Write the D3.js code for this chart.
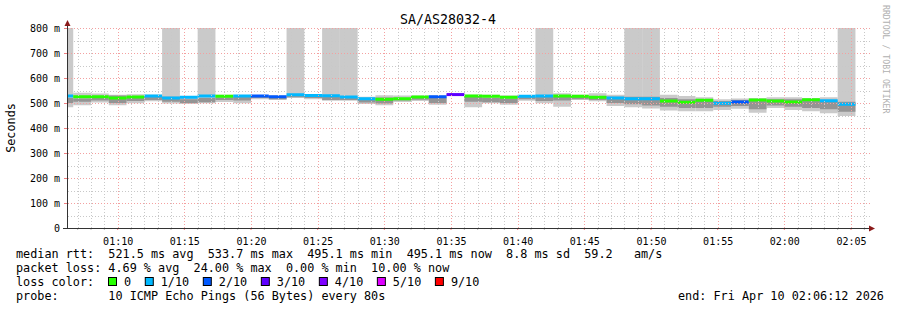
<!DOCTYPE html>
<html><head><meta charset="utf-8">
<script src="https://cdn.jsdelivr.net/npm/d3@7"></script>
<style>
body{margin:0;background:#fff}
text{font-family:"DejaVu Sans Mono",monospace;white-space:pre}
</style></head><body>
<div id="chart"></div>
<script>
var title = "SA/AS28032-4";
var startTime = "2026-04-10T01:06:12Z", endTime = "2026-04-10T02:06:12Z";
var firstStep = "2026-04-10T01:05:20Z", stepSec = 80;

// per 80s step: median rtt (ms), lost pings, outer smoke and core smoke
var median = [528,525,525,520,524,528,520,523,528,527,528,528,525,533,530,529,524,517,515,517,524,525,533.7,
              528,527,523,527,528,528,527,523,520,517,517,508,503,511,499,504,512,508,504,513,509,495.1];
var loss   = [1,0,0,0,0,1,1,1,1,0,1,2,2,1,1,1,1,1,0,0,0,2,3,
              0,0,0,1,1,0,0,0,1,1,1,0,0,0,1,2,0,0,0,0,1,1];
var smokeLo = [483,491,502,491,499,507,498,496,499,504,499,515,512,520,515,509,509,496,491,504,508,493,528,
               483,499,493,509,499,485,512,507,488,483,478,470,467,467,472,477,461,480,472,467,459,448];
var smokeHi = [900,541,538,533,535,533,900,528,900,533,531,531,530,900,535,900,900,525,531,530,530,530,535,
               533,533,530,532,900,539,533,539,533,900,900,533,528,523,515,518,520,523,523,520,523,900];
var coreLo = [500,505,510,500,508,512,505,500,503,512,510,520,515,523,520,512,512,502,498,510,513,500,530,
              505,503,500,515,508,510,515,512,500,495,490,485,480,480,485,488,475,490,485,480,475,465];
var coreHi = [520,518,520,530,520,525,525,515,520,522,525,528,522,531,528,525,521,515,522,520,520,522,534,
              525,520,518,525,524,525,524,528,525,525,525,520,515,515,508,512,510,515,515,515,510,505];

var lossCounts = [0,1,2,3,4,5,9];
var lossLabels = ["0","1/10","2/10","3/10","4/10","5/10","9/10"];
var lossColors = ["#26ff00","#00b8ff","#0059ff","#5e00ff","#7e00ff","#dd00ff","#ff0000"];
var yTicks = [0,100,200,300,400,500,600,700,800];

var legendLines = [
  "median rtt:  521.5 ms avg  533.7 ms max  495.1 ms min  495.1 ms now  8.8 ms sd  59.2   am/s",
  "packet loss: 4.69 % avg  24.00 % max  0.00 % min  10.00 % now",
  "loss color:",
  "probe:       10 ICMP Echo Pings (56 Bytes) every 80s"
];
var endLabel = "end: Fri Apr 10 02:06:12 2026";

var W = 897, H = 310;
var pLeft = 67, pRight = 867, pTop = 28, pBottom = 228;
var charW = 7.08;

var svg = d3.select("#chart").append("svg").attr("width", W).attr("height", H);
svg.append("rect").attr("width", W).attr("height", H).attr("fill", "#fff");

var x = d3.scaleUtc().domain([new Date(startTime), new Date(endTime)]).range([pLeft, pRight]);
var y = d3.scaleLinear().domain([0, 800]).range([pBottom, pTop]);

svg.append("clipPath").attr("id", "plot")
  .append("rect").attr("x", pLeft).attr("y", pTop).attr("width", pRight - pLeft).attr("height", pBottom - pTop);

var t0 = new Date(firstStep);
var steps = median.map(function(m, i){
  var s = d3.utcSecond.offset(t0, i * stepSec);
  return {t: s, t1: d3.utcSecond.offset(s, stepSec), med: m, loss: loss[i],
          lo: smokeLo[i], hi: smokeHi[i], clo: coreLo[i], chi: coreHi[i]};
});

var plot = svg.append("g").attr("clip-path", "url(#plot)");

// smoke
plot.selectAll("rect.smoke").data(steps).enter().append("rect")
  .attr("class", "smoke")
  .attr("x", function(d){return x(d.t);})
  .attr("width", function(d){return x(d.t1) - x(d.t);})
  .attr("y", function(d){return y(d.hi);})
  .attr("height", function(d){return y(d.lo) - y(d.hi);})
  .attr("fill", "#cacaca");
plot.selectAll("rect.core").data(steps).enter().append("rect")
  .attr("class", "core")
  .attr("x", function(d){return x(d.t);})
  .attr("width", function(d){return x(d.t1) - x(d.t);})
  .attr("y", function(d){return y(d.chi);})
  .attr("height", function(d){return y(d.clo) - y(d.chi);})
  .attr("fill", "#949494");

// median, coloured by loss
plot.selectAll("rect.med").data(steps).enter().append("rect")
  .attr("class", "med")
  .attr("x", function(d){return x(d.t);})
  .attr("width", function(d){return x(d.t1) - x(d.t);})
  .attr("y", function(d){return y(d.med) - 1.5;})
  .attr("height", 3)
  .attr("fill", function(d){return lossColors[lossCounts.indexOf(d.loss)];});

// grid
var grid = svg.append("g");
var minutes = d3.utcMinute.range(new Date(startTime), new Date(endTime));
grid.selectAll("line.vmin").data(minutes.filter(function(d){return d.getUTCMinutes() % 5;}))
  .enter().append("line")
  .attr("x1", x).attr("x2", x).attr("y1", pTop).attr("y2", pBottom)
  .attr("stroke", "#c8c8c8").attr("stroke-dasharray", "1,2");
grid.selectAll("line.hmin").data([50,150,250,350,450,550,650,750]).enter().append("line")
  .attr("x1", pLeft).attr("x2", pRight + 2).attr("y1", y).attr("y2", y)
  .attr("stroke", "#c8c8c8").attr("stroke-dasharray", "1,2");
var fives = x.ticks(d3.utcMinute.every(5));
grid.selectAll("line.vmaj").data(fives).enter().append("line")
  .attr("x1", x).attr("x2", x).attr("y1", pTop).attr("y2", pBottom)
  .attr("stroke", "#f4a0a0").attr("stroke-dasharray", "1,2");
grid.selectAll("line.hmaj").data(yTicks.slice(1)).enter().append("line")
  .attr("x1", pLeft).attr("x2", pRight + 2).attr("y1", y).attr("y2", y)
  .attr("stroke", "#f4a0a0").attr("stroke-dasharray", "1,2");
grid.selectAll("line").attr("shape-rendering", "crispEdges")
  .attr("transform", "translate(0.5,0.5)");

// axes
var xAxis = svg.append("g").attr("transform", "translate(0," + pBottom + ")")
  .call(d3.axisBottom(x).ticks(d3.utcMinute.every(5)).tickFormat(d3.utcFormat("%H:%M"))
        .tickSize(0).tickPadding(10));
xAxis.select(".domain").remove();
xAxis.selectAll("text").attr("font-family", "DejaVu Sans Mono").attr("font-size", "10px").attr("fill", "#000");
svg.append("g").selectAll("line").data(minutes).enter().append("line")
  .attr("x1", x).attr("x2", x).attr("y1", pBottom).attr("y2", pBottom + 2)
  .attr("stroke", function(d){return d.getUTCMinutes() % 5 ? "#bbb" : "#f08080";});

var yAxis = svg.append("g").attr("transform", "translate(" + pLeft + ",0)")
  .call(d3.axisLeft(y).tickValues(yTicks).tickFormat(function(d){return d ? d + " m" : "0";})
        .tickSize(0).tickPadding(7));
yAxis.select(".domain").remove();
yAxis.selectAll("text").attr("font-family", "DejaVu Sans Mono").attr("font-size", "10px").attr("fill", "#000");
svg.append("g").selectAll("line").data(yTicks).enter().append("line")
  .attr("x1", pLeft - 3).attr("x2", pLeft).attr("y1", function(d){return y(d) + 0.5;})
  .attr("y2", function(d){return y(d) + 0.5;})
  .attr("stroke", function(d){return d ? "#f08080" : "#333";});

svg.append("line").attr("x1", pLeft + 0.5).attr("x2", pLeft + 0.5).attr("y1", pBottom).attr("y2", 24)
  .attr("stroke", "#333");
svg.append("line").attr("x1", pLeft - 4).attr("x2", pRight + 4).attr("y1", pBottom + 0.5).attr("y2", pBottom + 0.5)
  .attr("stroke", "#333");
svg.append("path").attr("d", "M" + (pLeft + 0.5) + ",20 l-3,6 l6,0 z").attr("fill", "#8b1a1a");
svg.append("path").attr("d", "M" + (pRight + 8) + "," + (pBottom + 0.5) + " l-6,-3 l0,6 z").attr("fill", "#8b1a1a");

// title, y label, watermark
svg.append("text").attr("x", 448).attr("y", 24).attr("text-anchor", "middle")
  .attr("font-size", "13.3px").text(title);
svg.append("text").attr("transform", "translate(15,128) rotate(-90)").attr("text-anchor", "middle")
  .attr("font-size", "11.8px").text("Seconds");
svg.append("text").attr("transform", "translate(883,5) rotate(90)")
  .attr("font-size", "8.2px").attr("fill", "#b0b0b0").text("RRDTOOL / TOBI OETIKER");

// legend
var rowY = [258, 272, 286, 300];
svg.selectAll("text.leg").data(legendLines).enter().append("text")
  .attr("class", "leg").attr("x", 16).attr("y", function(d, i){return rowY[i];})
  .attr("font-size", "11.8px").text(function(d){return d;});
svg.append("text").attr("x", 678).attr("y", rowY[3]).attr("font-size", "11.8px").text(endLabel);

var lx = 108;
lossLabels.forEach(function(lab, i){
  svg.append("rect").attr("x", lx + 0.5).attr("y", rowY[2] - 8.5).attr("width", 8).attr("height", 8)
    .attr("fill", lossColors[i]).attr("stroke", "#000");
  svg.append("text").attr("x", lx + 16).attr("y", rowY[2]).attr("font-size", "11.8px").text(lab);
  lx = lx + 16 + lab.length * charW + 13.7;
});
</script>
</body></html>
